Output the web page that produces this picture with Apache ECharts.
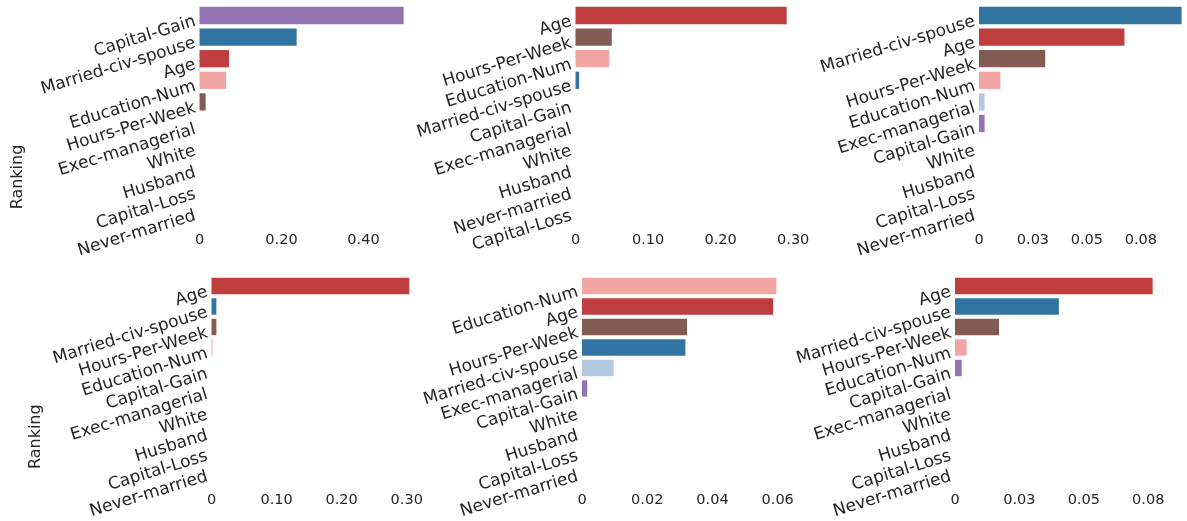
<!DOCTYPE html>
<html>
<head>
<meta charset="utf-8">
<script src="https://cdn.jsdelivr.net/npm/echarts@6/dist/echarts.min.js"></script>
<style>html,body{margin:0;padding:0;background:#fff}#c{width:1187px;height:521px}</style>
</head>
<body>
<div id="c"></div>
<script>
// ---- data ----
const cats1 = ['Capital-Gain','Married-civ-spouse','Age','Education-Num','Hours-Per-Week','Exec-managerial','White','Husband','Capital-Loss','Never-married'];
const vals1 = [0.498, 0.237, 0.072, 0.065, 0.015, 0, 0, 0, 0, 0];
const cats2 = ['Age','Hours-Per-Week','Education-Num','Married-civ-spouse','Capital-Gain','Exec-managerial','White','Husband','Never-married','Capital-Loss'];
const vals2 = [0.291, 0.050, 0.0465, 0.005, 0, 0, 0, 0, 0, 0];
const cats3 = ['Married-civ-spouse','Age','Hours-Per-Week','Education-Num','Exec-managerial','Capital-Gain','White','Husband','Capital-Loss','Never-married'];
const vals3 = [0.0939, 0.0674, 0.0307, 0.0099, 0.0026, 0.0026, 0, 0, 0, 0];
const cats4 = ['Age','Married-civ-spouse','Hours-Per-Week','Education-Num','Capital-Gain','Exec-managerial','White','Husband','Capital-Loss','Never-married'];
const vals4 = [0.304, 0.0075, 0.0075, 0.0015, 0, 0, 0, 0, 0, 0];
const cats5 = ['Education-Num','Age','Hours-Per-Week','Married-civ-spouse','Exec-managerial','Capital-Gain','White','Husband','Capital-Loss','Never-married'];
const vals5 = [0.0596, 0.0586, 0.0322, 0.0317, 0.0097, 0.0016, 0, 0, 0, 0];
const cats6 = ['Age','Married-civ-spouse','Hours-Per-Week','Education-Num','Capital-Gain','Exec-managerial','White','Husband','Capital-Loss','Never-married'];
const vals6 = [0.0767, 0.0403, 0.0171, 0.0045, 0.0026, 0, 0, 0, 0, 0];
const axisMax = [0.5, 0.3, 0.095, 0.305, 0.06, 0.077];
const axisInterval = [0.2, 0.1, 0.025, 0.1, 0.02, 0.025];
const yAxisTitle = 'Ranking';

const colorOf = {
  'Married-civ-spouse': '#3274a1',
  'Exec-managerial': '#b5c8e1',
  'Age': '#c03d3e',
  'Education-Num': '#f2a5a3',
  'Capital-Gain': '#9372b2',
  'Hours-Per-Week': '#845b53',
  'White': '#c03d3e', 'Husband': '#c03d3e', 'Capital-Loss': '#c03d3e', 'Never-married': '#c03d3e'
};

const panels = [
  {cats: cats1, vals: vals1, left: 199.5, width: 205,   top: 4.7,   height: 216},
  {cats: cats2, vals: vals2, left: 575.5, width: 217.7, top: 4.7,   height: 216},
  {cats: cats3, vals: vals3, left: 979,   width: 206,   top: 4.7,   height: 216},
  {cats: cats4, vals: vals4, left: 211.5, width: 198.5, top: 275.7, height: 206},
  {cats: cats5, vals: vals5, left: 582,   width: 195.7, top: 275.7, height: 206},
  {cats: cats6, vals: vals6, left: 955,   width: 198.4, top: 275.7, height: 206}
];

const FONT = 'DejaVu Sans';
const TXT = '#262626';

function fmt(interval) {
  return function (v) {
    const k = v / interval;
    if (Math.abs(k - Math.round(k)) > 1e-6) return '';
    if (Math.abs(v) < 1e-12) return '0';
    return (Math.round(v * 100 + 1e-6) / 100).toFixed(2);
  };
}

const grid = [], xAxis = [], yAxis = [], series = [];
panels.forEach((p, i) => {
  grid.push({left: p.left, top: p.top, width: p.width, height: p.height, containLabel: false});
  xAxis.push({
    type: 'value', gridIndex: i, min: 0, max: axisMax[i], interval: axisInterval[i],
    axisLine: {show: false}, axisTick: {show: false}, splitLine: {show: false},
    axisLabel: {show: true, formatter: fmt(axisInterval[i]), color: TXT, fontFamily: FONT, fontSize: 14.5, margin: 12}
  });
  yAxis.push({
    type: 'category', gridIndex: i, data: p.cats, inverse: true,
    axisLine: {show: false}, axisTick: {show: false}, splitLine: {show: false},
    axisLabel: {interval: 0, rotate: 17, align: 'right', verticalAlign: 'top', margin: 6, lineHeight: 12,
                color: TXT, fontFamily: FONT, fontSize: 17}
  });
  series.push({
    type: 'bar', xAxisIndex: i, yAxisIndex: i, barCategoryGap: '20%', silent: true,
    data: p.vals.map((v, j) => ({value: v, itemStyle: {color: colorOf[p.cats[j]]}}))
  });
});

const chart = echarts.init(document.getElementById('c'), null, {renderer: 'canvas'});
chart.setOption({
  animation: false,
  backgroundColor: '#ffffff',
  grid, xAxis, yAxis, series,
  graphic: [
    {type: 'text', x: 18.3, y: 177, rotation: Math.PI / 2,
     style: {text: yAxisTitle, fill: TXT, font: '16px "DejaVu Sans"', align: 'center', verticalAlign: 'middle'}},
    {type: 'text', x: 35.5, y: 436.7, rotation: Math.PI / 2,
     style: {text: yAxisTitle, fill: TXT, font: '16px "DejaVu Sans"', align: 'center', verticalAlign: 'middle'}}
  ]
});
</script>
</body>
</html>
